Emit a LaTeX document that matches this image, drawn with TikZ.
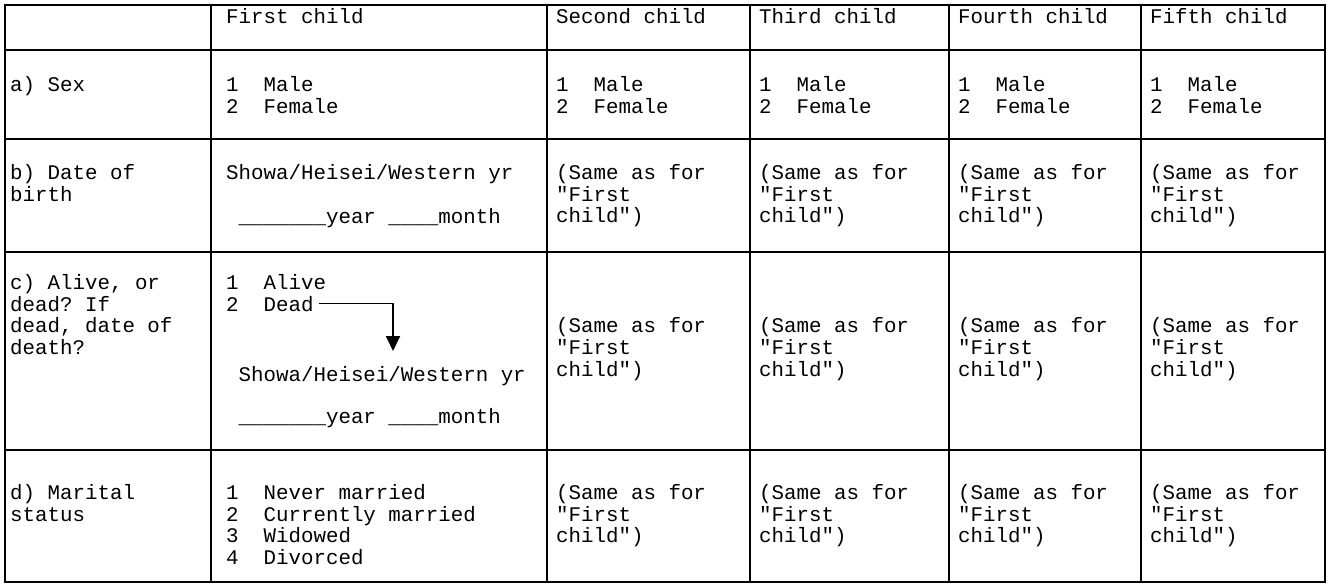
\documentclass[tikz,border=0pt]{standalone}
\usepackage{fontspec}
\setmainfont{Liberation Mono}[Ligatures=TeXOff]
\usetikzlibrary{arrows.meta}
\newcommand{\tstr}{\rule{0pt}{18pt}}
\newcommand{\same}{\tstr(Same as for\\"First\\child")}
\newcommand{\sexopt}{\tstr 1~~Male\\2~~Female}
\newcommand{\ymline}{\tstr~\_\_\_\_\_\_\_year~\_\_\_\_month}
\begin{document}
\frenchspacing
\begin{tikzpicture}[x=1pt,y=-1pt,
  gridline/.style={line width=1.8pt},
  cell/.style={anchor=north west, inner sep=0pt, align=left, font=\fontsize{20.8}{21.6}\selectfont\frenchspacing},
  arr/.style={line width=1.8pt, -{Triangle[width=14pt,length=15pt]}}]
\useasboundingbox (0,0) rectangle (1330,587);
% grid
\draw[gridline] (5,5) rectangle (1325,582);
\foreach \yy in {50,139,252,450} \draw[gridline] (5,\yy) -- (1325,\yy);
\foreach \xx in {211,547,750,949,1141} \draw[gridline] (\xx,5) -- (\xx,582);
% header
\node[cell] (h1) at (226,5.5) {\tstr First child};
\node[cell] (h2) at (556,5.5) {\tstr Second child};
\node[cell] (h3) at (759,5.5) {\tstr Third child};
\node[cell] (h4) at (958,5.5) {\tstr Fourth child};
\node[cell] (h5) at (1150,5.5) {\tstr Fifth child};
% row a
\node[cell] (a0) at (10,73.7) {\tstr a) Sex};
\node[cell] (a1) at (226,73.7) {\sexopt};
\node[cell] (a2) at (556,73.7) {\sexopt};
\node[cell] (a3) at (759,73.7) {\sexopt};
\node[cell] (a4) at (958,73.7) {\sexopt};
\node[cell] (a5) at (1150,73.7) {\sexopt};
% row b
\node[cell] (b0) at (10,161.5) {\tstr b) Date of\\birth};
\node[cell] (b1) at (226,161.5) {\tstr Showa/Heisei/Western yr};
\node[cell] (b1d) at (226,205.5) {\ymline};
\node[cell] (b2) at (556,161.5) {\same};
\node[cell] (b3) at (759,161.5) {\same};
\node[cell] (b4) at (958,161.5) {\same};
\node[cell] (b5) at (1150,161.5) {\same};
% row c
\node[cell] (c0) at (10,271.5) {\tstr c) Alive, or\\dead? If\\dead, date of\\death?};
\node[cell] (c1) at (226,271.5) {\tstr 1~~Alive\\2~~Dead};
\node[cell] (c1s) at (226,363.5) {\tstr ~Showa/Heisei/Western yr};
\node[cell] (c1d) at (226,405.5) {\ymline};
\node[cell] (c2) at (556,314.7) {\same};
\node[cell] (c3) at (759,314.7) {\same};
\node[cell] (c4) at (958,314.7) {\same};
\node[cell] (c5) at (1150,314.7) {\same};
\coordinate (arrS) at (319,303.5);
\coordinate (arrT) at (393,351);
\draw[arr] (arrS) -| (arrT);
% row d
\node[cell] (d0) at (10,481.5) {\tstr d) Marital\\status};
\node[cell] (d1) at (226,481.5) {\tstr 1~~Never married\\2~~Currently married\\3~~Widowed\\4~~Divorced};
\node[cell] (d2) at (556,481.5) {\same};
\node[cell] (d3) at (759,481.5) {\same};
\node[cell] (d4) at (958,481.5) {\same};
\node[cell] (d5) at (1150,481.5) {\same};
\end{tikzpicture}
\end{document}
